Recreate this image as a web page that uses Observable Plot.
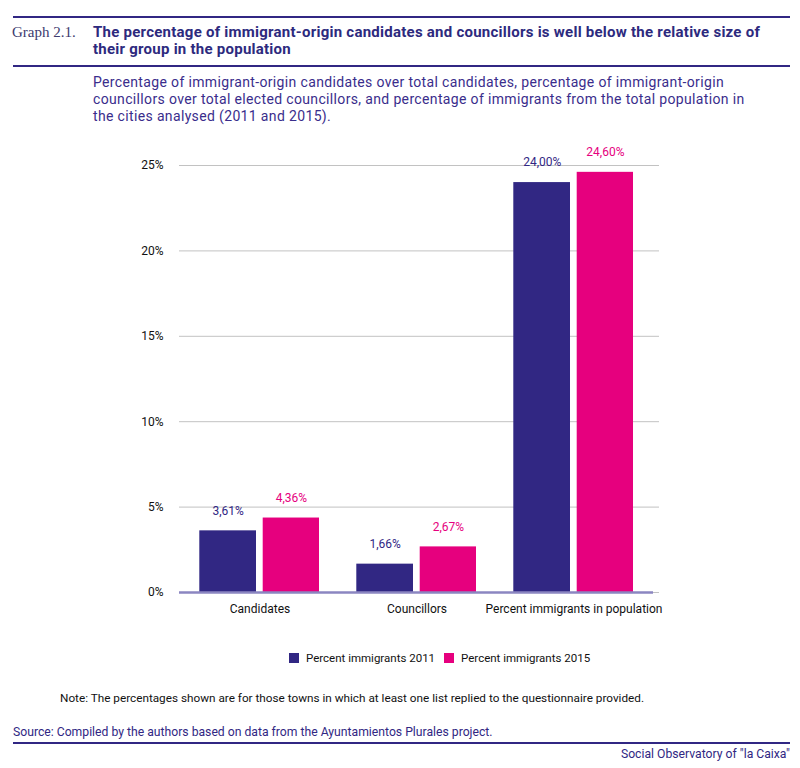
<!DOCTYPE html>
<html>
<head>
<meta charset="utf-8">
<script src="https://cdn.jsdelivr.net/npm/d3@7"></script>
<script src="https://cdn.jsdelivr.net/npm/@observablehq/plot@0.6"></script>
<style>
  html, body { margin: 0; padding: 0; background: #fff; }
  body { width: 800px; height: 768px; position: relative; overflow: hidden; font-family: Roboto, sans-serif; }
  .abs { position: absolute; white-space: nowrap; }
  .rule { position: absolute; left: 13px; width: 777px; height: 2px; background: #312783; }
  #chart { position: absolute; left: 0; top: 140px; }
  .sw { display: inline-block; width: 10px; height: 10px; vertical-align: -1px; margin-right: 7px; }
</style>
</head>
<body>
<div class="rule" style="top:16px"></div>
<div class="abs" style="left:12px; top:24px; font-family:'Liberation Serif', serif; font-size:15px; line-height:17px; color:#3d3a6e;">Graph 2.1.</div>
<div class="abs" style="left:93px; top:24px; font-size:15px; line-height:17px; font-weight:700; letter-spacing:0.25px; color:#2d2a7e;">The percentage of immigrant-origin candidates and councillors is well below the relative size of<br>their group in the population</div>
<div class="rule" style="top:65px"></div>
<div class="abs" style="left:93px; top:74px; font-size:14px; line-height:16.8px; letter-spacing:0.35px; color:#3a2d8c;">Percentage of immigrant-origin candidates over total candidates, percentage of immigrant-origin<br>councillors over total elected councillors, and percentage of immigrants from the total population in<br>the cities analysed (2011 and 2015).</div>
<div id="chart"></div>
<div id="legend" class="abs" style="left:289px; top:651px; font-size:11.5px; line-height:15px; color:#111;"></div>
<div class="abs" style="left:60px; top:690.5px; font-size:11.75px; line-height:14px; color:#111;">Note: The percentages shown are for those towns in which at least one list replied to the questionnaire provided.</div>
<div class="abs" style="left:13px; top:725.4px; font-size:12.2px; line-height:14px; color:#312783;">Source: Compiled by the authors based on data from the Ayuntamientos Plurales project.</div>
<div class="rule" style="top:742px"></div>
<div class="abs" style="right:10px; top:747px; font-size:12.2px; line-height:14px; color:#312783;">Social Observatory of "la Caixa"</div>
<script>
const categories = ["Candidates", "Councillors", "Percent immigrants in population"];
const values2011 = [3.61, 1.66, 24.00];
const values2015 = [4.36, 2.67, 24.60];
const seriesNames = ["Percent immigrants 2011", "Percent immigrants 2015"];
const seriesColors = ["#312783", "#e6007e"];
const yTicks = [0, 5, 10, 15, 20, 25];

const d2011 = categories.map((c, i) => ({category: c, value: values2011[i]}));
const d2015 = categories.map((c, i) => ({category: c, value: values2015[i]}));
const fmt = v => v.toFixed(2).replace(".", ",") + "%";

const chart = Plot.plot({
  width: 800,
  height: 490,
  marginLeft: 179,
  marginRight: 141,
  marginTop: 25,
  marginBottom: 38,
  style: {fontFamily: "Roboto, sans-serif", fontSize: "12px", color: "#111", background: "transparent"},
  x: {domain: categories, range: [180, 653], padding: 0, label: null, tickSize: 0, tickPadding: 12},
  y: {domain: [0, 25], ticks: yTicks, tickFormat: d => d + "%", label: null, tickSize: 0, tickPadding: 16},
  marks: [
    Plot.gridY(yTicks, {stroke: "#c2c2c2", strokeOpacity: 1}),
    Plot.barY(d2011, {x: "category", y: "value", fill: seriesColors[0], insetLeft: 18.3, insetRight: 82}),
    Plot.barY(d2015, {x: "category", y: "value", fill: seriesColors[1], insetLeft: 81.7, insetRight: 19}),
    Plot.ruleY([0], {stroke: "#8b86c1", strokeWidth: 2.5, insetRight: 6}),
    Plot.text(d2011, {x: "category", y: "value", text: d => fmt(d.value), dx: -31.8, dy: -20, lineAnchor: "middle", fill: seriesColors[0], fontSize: 12}),
    Plot.text(d2015, {x: "category", y: "value", text: d => fmt(d.value), dx: 31.4, dy: -20, lineAnchor: "middle", fill: seriesColors[1], fontSize: 12})
  ]
});
document.getElementById("chart").appendChild(chart);

const legend = document.getElementById("legend");
seriesNames.forEach((name, i) => {
  const item = document.createElement("span");
  item.style.marginRight = i === 0 ? "9px" : "0";
  item.innerHTML = `<span class="sw" style="background:${seriesColors[i]}"></span>${name}`;
  legend.appendChild(item);
});
</script>
</body>
</html>
